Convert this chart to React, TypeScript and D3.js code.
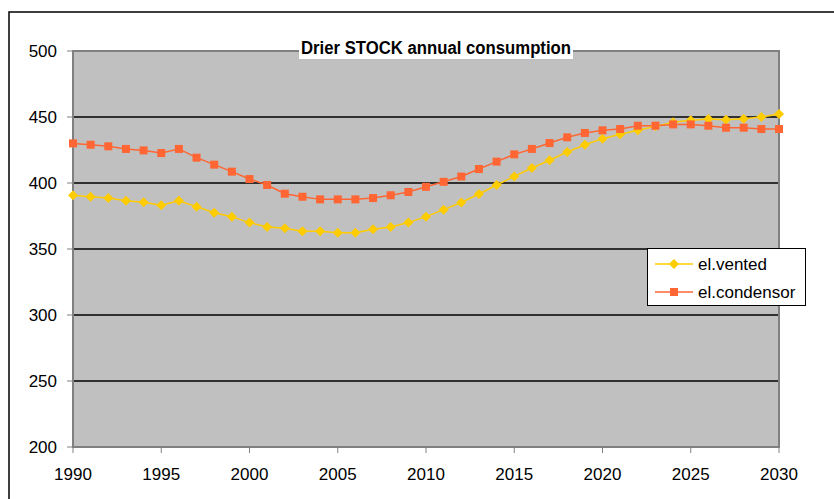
import React from "react";
import * as d3 from "d3";

const years: number[] = d3.range(1990, 2031);
const vented: number[] = [
  390.7, 389.6, 388.6, 386.6, 385.4, 383.1, 386.6, 382.1, 377.5, 374.5,
  370.0, 366.7, 365.7, 363.4, 363.4, 362.4, 362.4, 364.9, 366.7, 370.0,
  374.5, 379.8, 385.2, 391.7, 398.5, 405.0, 411.4, 417.2, 423.5, 429.0,
  433.6, 436.9, 439.9, 442.9, 446.0, 447.5, 448.5, 448.0, 448.7, 450.0, 452.3,
];
const condensor: number[] = [
  430.0, 429.0, 427.8, 425.8, 424.7, 422.7, 425.8, 419.2, 413.9, 408.6,
  403.0, 398.5, 391.9, 389.6, 387.6, 387.6, 387.6, 388.6, 390.7, 393.2,
  397.1, 400.9, 404.9, 410.6, 416.2, 421.7, 425.8, 430.3, 434.6, 437.9,
  439.9, 440.9, 443.4, 443.4, 444.4, 444.4, 443.4, 441.9, 441.9, 440.9, 440.9,
];
const yTicks: number[] = [200, 250, 300, 350, 400, 450, 500];
const xTicks: number[] = [1990, 1995, 2000, 2005, 2010, 2015, 2020, 2025, 2030];
const seriesNames: string[] = ["el.vented", "el.condensor"];
const title = "Drier STOCK annual consumption";

const VENT = "#FFCC00";
const COND = "#FF6633";

export default function App() {
  const W = 834, H = 499;
  const left = 73, right = 779, top = 51, bottom = 447;
  const x = d3.scaleLinear().domain([1990, 2030]).range([left, right]);
  const y = d3.scaleLinear().domain([200, 500]).range([bottom, top]);
  const line = d3.line<number>().x((_, i) => x(years[i])).y((v) => y(v));
  const font = "Arial, 'Liberation Sans', sans-serif";

  const diamond = (cx: number, cy: number, r: number) =>
    `M${cx},${cy - r}L${cx + r},${cy}L${cx},${cy + r}L${cx - r},${cy}Z`;

  return (
    <svg
      width={W}
      height={H}
      style={{ position: "absolute", left: 0, top: 0, background: "#fff" }}
      fontFamily={font}
    >
      <rect x={0} y={0} width={W} height={H} fill="#fff" />
      {/* chart border */}
      <rect x={9} y={12} width={W + 20} height={H + 20} fill="none" stroke="#000" strokeWidth={1.5} />
      {/* plot area */}
      <rect x={left} y={top} width={right - left} height={bottom - top} fill="#C0C0C0" />
      {yTicks
        .filter((t) => t !== 200 && t !== 500)
        .map((t) => (
          <line key={"g" + t} x1={left} x2={right} y1={y(t)} y2={y(t)} stroke="#000" strokeWidth={1.5} />
        ))}
      <rect x={left} y={top} width={right - left} height={bottom - top} fill="none" stroke="#808080" strokeWidth={2} />
      {/* y axis ticks */}
      {yTicks.map((t) => (
        <g key={"y" + t}>
          <line x1={left - 6} x2={left} y1={y(t)} y2={y(t)} stroke="#808080" strokeWidth={1} />
          <text x={57} y={y(t)} dy="0.36em" textAnchor="end" fontSize={17} fill="#000">
            {t}
          </text>
        </g>
      ))}
      {/* x axis ticks */}
      {xTicks.map((t) => (
        <g key={"x" + t}>
          <line x1={x(t)} x2={x(t)} y1={bottom} y2={bottom + 6} stroke="#808080" strokeWidth={1} />
          <text x={x(t)} y={480} textAnchor="middle" fontSize={17} fill="#000">
            {t}
          </text>
        </g>
      ))}
      {/* series */}
      <path d={line(vented) || ""} fill="none" stroke={VENT} strokeWidth={1.5} />
      <path d={line(condensor) || ""} fill="none" stroke={COND} strokeWidth={1.5} />
      {vented.map((v, i) => (
        <path key={"v" + i} d={diamond(x(years[i]), y(v), 5)} fill={VENT} />
      ))}
      {condensor.map((v, i) => (
        <rect key={"c" + i} x={x(years[i]) - 4} y={y(v) - 4} width={8} height={8} fill={COND} />
      ))}
      {/* title */}
      <rect x={299} y={36} width={274} height={23} fill="#fff" />
      <text x={301} y={54} fontSize={18} fontWeight="bold" fill="#000" textLength={270} lengthAdjust="spacingAndGlyphs">
        {title}
      </text>
      {/* legend */}
      <rect x={647.5} y={248.5} width={158} height={57} fill="#fff" stroke="#000" strokeWidth={1} />
      {seriesNames.map((n, i) => {
        const ly = 264 + i * 28;
        const col = i === 0 ? VENT : COND;
        return (
          <g key={n}>
            <line x1={655} x2={693} y1={ly} y2={ly} stroke={col} strokeWidth={1.5} />
            {i === 0 ? (
              <path d={diamond(674, ly, 5)} fill={col} />
            ) : (
              <rect x={670} y={ly - 4} width={8} height={8} fill={col} />
            )}
            <text x={698} y={ly} dy="0.36em" fontSize={17} fill="#000">
              {n}
            </text>
          </g>
        );
      })}
    </svg>
  );
}
